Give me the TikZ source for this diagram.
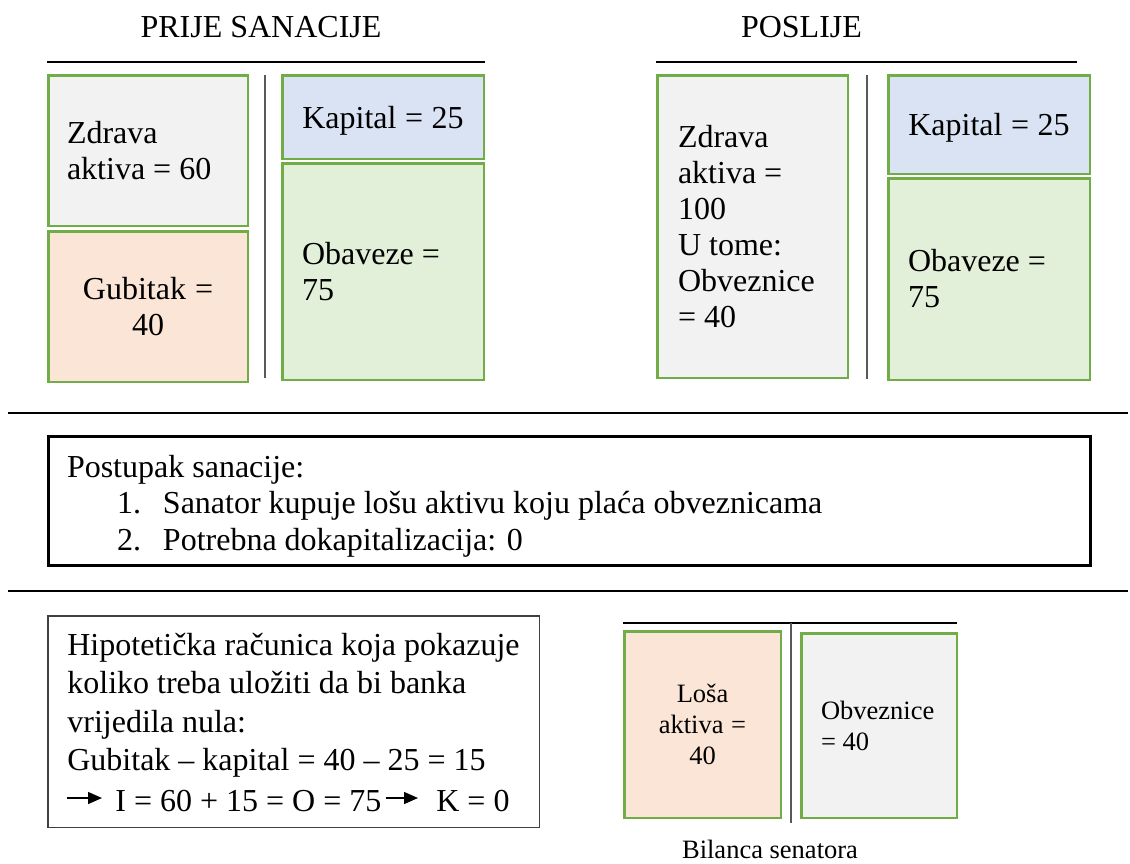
\documentclass[tikz,border=0pt]{standalone}
\usepackage{fontspec}
\setmainfont{Liberation Serif}
\usetikzlibrary{arrows.meta}

\definecolor{boxgreen}{RGB}{112,173,71}
\definecolor{fillgray}{RGB}{242,242,242}
\definecolor{fillpeach}{RGB}{251,229,214}
\definecolor{fillblue}{RGB}{218,227,243}
\definecolor{fillgreen}{RGB}{226,240,217}
\definecolor{midgray}{RGB}{89,89,89}

\newcommand{\bigtxt}{\fontsize{32}{36}\selectfont}
\newcommand{\smalltxt}{\fontsize{26.5}{31}\selectfont}

\tikzset{every picture/.style={line width=0.75pt}}
\tikzset{
  plainsp/.style={execute at begin node={\spaceskip=0pt\xspaceskip=0pt\relax}},
  acct/.style={draw=boxgreen, line width=2.5pt, inner sep=0pt, font=\bigtxt, align=left, plainsp},
  rulebar/.style={line width=1.5pt},
  divider/.style={draw=midgray, line width=2pt},
  calcarrow/.style={-{Triangle[length=14pt,width=12pt]}, line width=1.4pt},
}

\begin{document}
\begin{tikzpicture}[x=1pt,y=1pt,yscale=-1]
\useasboundingbox (0,0) rectangle (1130,863);

% Titles
\node [font=\bigtxt, anchor=base] (before) at (261,37) {PRIJE SANACIJE};
\node [font=\bigtxt, anchor=base] (after) at (801.5,37) {POSLIJE};

%Balance before
\draw [rulebar] (47,62) -- (485,62);
\draw [divider] (265,75) -- (265,378);
\node [acct, fill=fillgray, minimum width=199.5pt, minimum height=150.5pt, text width=162pt] (zdravaA) at (148,150.5) {Zdrava\\aktiva = 60};
\node [acct, fill=fillpeach, minimum width=199.5pt, minimum height=150.5pt, text width=162pt, align=center] (gubitakA) at (148,306.5) {Gubitak =\\40};
\node [acct, fill=fillblue, minimum width=201.5pt, minimum height=83.5pt, text width=180pt, text depth=0pt, align=center] (kapitalA) at (383,117) {Kapital = 25};
\node [acct, fill=fillgreen, minimum width=201.5pt, minimum height=216.5pt, text width=162pt] (obavezeA) at (383,271.5) {Obaveze =\\75};

%Balance after
\draw [rulebar] (656,62) -- (1077,62);
\draw [divider] (867,75) -- (867,379);
\node [acct, fill=fillgray, minimum width=190.5pt, minimum height=302.5pt, text width=149pt] (zdravaB) at (752.5,226.5) {Zdrava\\aktiva =\\100\\U tome:\\Obveznice\\= 40};
\node [acct, fill=fillblue, minimum width=201.5pt, minimum height=98.5pt, text width=180pt, text depth=0pt, align=center] (kapitalB) at (989,124.5) {Kapital = 25};
\node [acct, fill=fillgreen, minimum width=201.5pt, minimum height=201.5pt, text width=162pt] (obavezeB) at (989,279) {Obaveze =\\75};

%Straight Lines
\draw [rulebar] (8,413) -- (1128,413);
\draw [rulebar] (8,591) -- (1128,591);

% Procedure
\node [draw, line width=3pt, inner sep=0pt, minimum width=1042pt, minimum height=129pt, text width=1005pt, text height=32pt, align=left, plainsp, font={\fontsize{32}{36.5}\selectfont}] (postupak) at (569.5,501) {Postupak sanacije:\\
\hspace*{50pt}\makebox[46pt][l]{1.}Sanator kupuje lošu aktivu koju plaća obveznicama\\
\hspace*{50pt}\makebox[46pt][l]{2.}Potrebna dokapitalizacija: 0};

% Calculation
\node [draw=black!75, line width=1.5pt, minimum width=491.5pt, minimum height=211.5pt] (racun) at (293.5,721.5) {};
\node [anchor=base west, inner sep=0pt, text width=460pt, align=left, plainsp, font={\fontsize{32}{38.5}\selectfont}] (racuntxt) at (67,655) {Hipotetička računica koja pokazuje\\
koliko treba uložiti da bi banka\\
vrijedila nula:\\
Gubitak – kapital = 40 – 25 = 15};
\node [anchor=base west, inner sep=0pt, font=\bigtxt] (eqI) at (115,811) {I = 60 + 15 = O = 75};
\node [anchor=base west, inner sep=0pt, font=\bigtxt] (eqK) at (436,811) {K = 0};
\coordinate (arrowA) at (67,798);
\coordinate (arrowB) at ([xshift=4pt]arrowA -| eqI.east);
\draw [calcarrow, shorten >=13pt] (arrowA) -- (arrowA -| eqI.west);
\draw [calcarrow, shorten >=18pt] (arrowB) -- (arrowB -| eqK.west);

%Balance of the bad bank
\draw [rulebar] (623,623) -- (957,623);
\draw [divider] (791,623) -- (791,823);
\node [acct, fill=fillpeach, font=\smalltxt, minimum width=156.5pt, minimum height=186.5pt, text width=120pt, align=center] (losa) at (702.5,724.5) {Loša\\aktiva =\\40};
\node [acct, fill=fillgray, font=\smalltxt, minimum width=155.5pt, minimum height=184.5pt, text width=116pt] (obveznice) at (879,725.5) {Obveznice\\= 40};
\node [font=\smalltxt, anchor=base] (senator) at (770,858) {Bilanca senatora};

\end{tikzpicture}
\end{document}
